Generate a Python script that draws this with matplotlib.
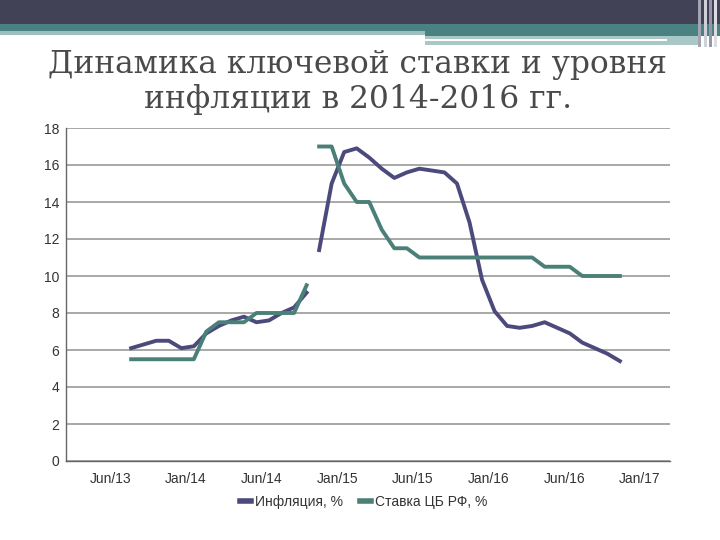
import matplotlib
matplotlib.use("Agg")
import matplotlib.pyplot as plt
from matplotlib.patches import Rectangle
import numpy as np

# monthly values, Sep 2013 .. Dec 2016
months = [
    "2013-09", "2013-10", "2013-11", "2013-12",
    "2014-01", "2014-02", "2014-03", "2014-04", "2014-05", "2014-06",
    "2014-07", "2014-08", "2014-09", "2014-10", "2014-11", "2014-12",
    "2015-01", "2015-02", "2015-03", "2015-04", "2015-05", "2015-06",
    "2015-07", "2015-08", "2015-09", "2015-10", "2015-11", "2015-12",
    "2016-01", "2016-02", "2016-03", "2016-04", "2016-05", "2016-06",
    "2016-07", "2016-08", "2016-09", "2016-10", "2016-11", "2016-12",
]
inflation = [
    6.1, 6.3, 6.5, 6.5,
    6.1, 6.2, 6.9, 7.3, 7.6, 7.8, 7.5, 7.6, 8.0, 8.3, 9.1, 11.4,
    15.0, 16.7, 16.9, 16.4, 15.8, 15.3, 15.6, 15.8, 15.7, 15.6, 15.0, 12.9,
    9.8, 8.1, 7.3, 7.2, 7.3, 7.5, 7.2, 6.9, 6.4, 6.1, 5.8, 5.4,
]
key_rate = [
    5.5, 5.5, 5.5, 5.5,
    5.5, 5.5, 7.0, 7.5, 7.5, 7.5, 8.0, 8.0, 8.0, 8.0, 9.5, 17.0,
    17.0, 15.0, 14.0, 14.0, 12.5, 11.5, 11.5, 11.0, 11.0, 11.0, 11.0, 11.0,
    11.0, 11.0, 11.0, 11.0, 11.0, 10.5, 10.5, 10.5, 10.0, 10.0, 10.0, 10.0,
]
# the source chart breaks both lines between Nov/14 and Dec/14
break_at = months.index("2014-12")

tick_labels = ["Jun/13", "Jan/14", "Jun/14", "Jan/15", "Jun/15", "Jan/16", "Jun/16", "Jan/17"]
title = "Динамика ключевой ставки и уровня\nинфляции в 2014-2016 гг."
series_names = ["Инфляция, %", "Ставка ЦБ РФ, %"]

c_infl = "#4c4a7c"
c_rate = "#4a8077"

fig = plt.figure(figsize=(7.2, 5.4), dpi=100)

# slide header decoration (in pixel units of the figure)
W, H = 720, 540
def band(x0, y0, x1, y1, color):
    fig.patches.append(Rectangle((x0 / W, 1 - y1 / H), (x1 - x0) / W, (y1 - y0) / H,
                                 transform=fig.transFigure, color=color, lw=0, zorder=0))

band(0, 0, 720, 24, "#414256")
band(0, 24, 720, 31, "#4a8282")
band(0, 31, 425, 35, "#9cbebe")
band(425, 31, 720, 36, "#4a8282")
band(425, 36, 700, 45, "#a9c7c7")
band(425, 39, 667, 41, "#ffffff")
for xs, col in [(698, "#a4a4b4"), (704, "#cfd0d8"), (709, "#9797aa"), (714, "#dcdce2")]:
    band(xs, 0, xs + 3, 47, col)

fig.text(0.497, 1 - 108 / H, title, ha="center", va="baseline", fontsize=22.5,
         family="DejaVu Serif", color="#4a4a4a", linespacing=1.15)

ax = fig.add_axes([66 / W, 1 - 461 / H, 604 / W, 333 / H])
x = np.arange(len(months))
inf = np.array(inflation)
rate = np.array(key_rate)

for seg in (slice(0, break_at), slice(break_at, None)):
    ax.plot(x[seg], inf[seg], color=c_infl, lw=2.8, solid_joinstyle="round", zorder=3)
    ax.plot(x[seg], rate[seg], color=c_rate, lw=2.8, solid_joinstyle="round", zorder=3)

ax.set_ylim(0, 18)
ax.set_yticks(range(0, 19, 2))
ax.set_xlim(-5.2, 43.0)
ax.set_xticks([-1.67 + 6.04 * k for k in range(len(tick_labels))])
ax.set_xticklabels(tick_labels)

ax.grid(axis="y", color="#9a9a9a", lw=1.2)
ax.set_axisbelow(True)
ax.tick_params(length=0, labelsize=10, labelcolor="#333333", pad=5)
ax.tick_params(axis="x", pad=8)
for lab in ax.get_xticklabels() + ax.get_yticklabels():
    lab.set_family("Liberation Sans")
for side in ("top", "right"):
    ax.spines[side].set_visible(False)
for side in ("left", "bottom"):
    ax.spines[side].set_color("#666666")
    ax.spines[side].set_linewidth(1.0)

handles = [plt.Line2D([], [], color=c, lw=4) for c in (c_infl, c_rate)]
fig.legend(handles, series_names, loc="center", bbox_to_anchor=(0.505, 1 - 502 / H),
           ncol=2, frameon=False, handlelength=0.8, handletextpad=0.3, columnspacing=1.2,
           prop={"family": "Liberation Sans", "size": 10}, labelcolor="#333333")

fig.savefig("out.png", dpi=100)
